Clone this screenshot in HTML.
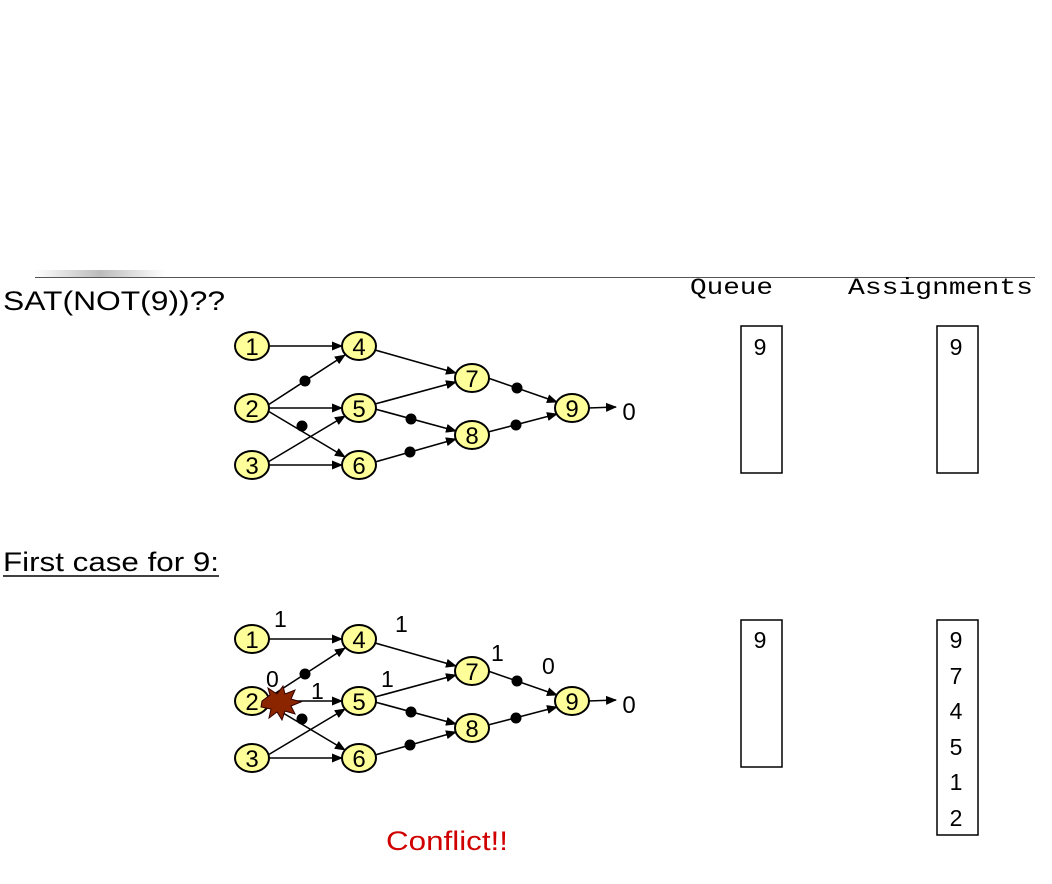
<!DOCTYPE html>
<html><head><style>
body{margin:0;width:1052px;height:884px;background:#fff;overflow:hidden}
svg{display:block}
</style></head><body>
<svg width="1052" height="884" xmlns="http://www.w3.org/2000/svg" font-family="Liberation Sans, sans-serif">
<defs>
<marker id="a" markerWidth="11" markerHeight="9" refX="10" refY="4.5" orient="auto" markerUnits="userSpaceOnUse"><path d="M0,0 L11,4.5 L0,9 z" fill="#000"/></marker>
<linearGradient id="g" x1="0" x2="1"><stop offset="0" stop-color="#fff"/><stop offset="0.5" stop-color="#bbb"/><stop offset="1" stop-color="#fff"/></linearGradient>
</defs>
<rect x="35" y="270" width="130" height="8" fill="url(#g)"/>
<line x1="35" y1="277.5" x2="1035" y2="277.5" stroke="#555" stroke-width="1"/>
<text x="3" y="310" font-size="27" textLength="222" lengthAdjust="spacingAndGlyphs">SAT(NOT(9))??</text>
<text x="690" y="294" font-size="23" font-family="Liberation Mono, monospace" textLength="83" lengthAdjust="spacingAndGlyphs">Queue</text>
<text x="848" y="294" font-size="23" font-family="Liberation Mono, monospace" textLength="185" lengthAdjust="spacingAndGlyphs">Assignments</text>
<text x="3" y="571" font-size="27" textLength="216" lengthAdjust="spacingAndGlyphs">First case for 9:</text>
<line x1="3" y1="576" x2="219" y2="576" stroke="#000" stroke-width="1.5"/>
<text x="386" y="850" font-size="27" fill="#d00000" textLength="122" lengthAdjust="spacingAndGlyphs">Conflict!!</text>

<g id="G" stroke="#000" stroke-width="1.6" fill="none">
<line x1="268" y1="346" x2="342" y2="346" marker-end="url(#a)"/>
<line x1="268" y1="405" x2="345" y2="355" marker-end="url(#a)"/>
<line x1="268" y1="408" x2="342" y2="408" marker-end="url(#a)"/>
<line x1="268" y1="411" x2="345" y2="457" marker-end="url(#a)"/>
<line x1="268" y1="462" x2="345" y2="416" marker-end="url(#a)"/>
<line x1="268" y1="465" x2="342" y2="465" marker-end="url(#a)"/>
<line x1="375" y1="350" x2="456" y2="373" marker-end="url(#a)"/>
<line x1="375" y1="404" x2="456" y2="382" marker-end="url(#a)"/>
<line x1="375" y1="409" x2="456" y2="431" marker-end="url(#a)"/>
<line x1="375" y1="462" x2="456" y2="439" marker-end="url(#a)"/>
<line x1="488" y1="378" x2="557" y2="402" marker-end="url(#a)"/>
<line x1="488" y1="432" x2="557" y2="414" marker-end="url(#a)"/>
<line x1="588" y1="408" x2="616" y2="407" marker-end="url(#a)"/>
<g fill="#000" stroke="none">
<circle cx="305" cy="381" r="5.5"/><circle cx="302" cy="426" r="5.5"/>
<circle cx="411" cy="419" r="5.5"/><circle cx="410" cy="452" r="5.5"/>
<circle cx="517" cy="388" r="5.5"/><circle cx="516" cy="425" r="5.5"/>
</g>
<g fill="#ffff99" stroke="#000" stroke-width="2">
<ellipse cx="252" cy="346" rx="17" ry="14"/><ellipse cx="252" cy="408" rx="17" ry="14"/><ellipse cx="252" cy="465" rx="17" ry="14"/>
<ellipse cx="359" cy="346" rx="17" ry="14"/><ellipse cx="359" cy="408" rx="17" ry="14"/><ellipse cx="359" cy="465" rx="17" ry="14"/>
<ellipse cx="472" cy="378" rx="17" ry="14"/><ellipse cx="472" cy="435" rx="17" ry="14"/><ellipse cx="572" cy="408" rx="17" ry="14"/>
</g>
<g fill="#000" stroke="none" font-size="24" text-anchor="middle">
<text x="252" y="355">1</text><text x="252" y="417">2</text><text x="252" y="474">3</text>
<text x="359" y="355">4</text><text x="359" y="417">5</text><text x="359" y="474">6</text>
<text x="472" y="387">7</text><text x="472" y="444">8</text><text x="572" y="417">9</text>
<text x="629" y="420">0</text>
</g>
</g>
<use href="#G" y="293"/>
<polygon points="262,701 270,695 268,688 277,694 283,686 285,694 295,690 291,699 301,702 291,706 295,714 285,711 282,720 277,712 269,718 271,709 261,707" fill="#8b2500" stroke="#300" stroke-width="1"/>
<g font-size="23">
<text x="274" y="627">1</text><text x="395" y="632">1</text><text x="491" y="661">1</text><text x="542" y="674">0</text>
<text x="266" y="687">0</text><text x="311" y="699">1</text><text x="381" y="687">1</text>
</g>

<g fill="none" stroke="#000" stroke-width="1.5">
<rect x="741" y="326" width="41" height="147"/><rect x="937" y="326" width="41" height="147"/>
<rect x="741" y="620" width="41" height="147"/><rect x="937" y="620" width="41" height="215"/>
</g>
<g font-size="23" text-anchor="middle">
<text x="760" y="355">9</text><text x="956" y="355">9</text>
<text x="760" y="648">9</text>
<text x="956" y="648">9</text><text x="956" y="684">7</text><text x="956" y="719">4</text>
<text x="956" y="755">5</text><text x="956" y="790">1</text><text x="956" y="826">2</text>
</g>
</svg>
</body></html>
